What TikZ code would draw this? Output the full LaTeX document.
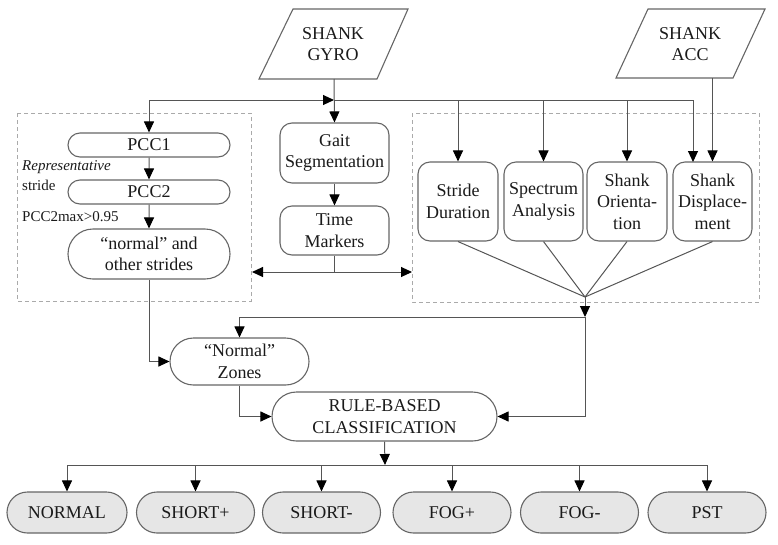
\documentclass[tikz,border=0pt]{standalone}
\usepackage{fontspec}
\setmainfont{Liberation Serif}
\usetikzlibrary{arrows.meta,shapes.misc,calc}
\definecolor{linec}{HTML}{555555}
\definecolor{bordc}{HTML}{666666}
\definecolor{dashc}{HTML}{AAAAAA}
\definecolor{fillc}{HTML}{E6E6E6}
\definecolor{txtc}{HTML}{1A1A1A}
\tikzset{
  base/.style={draw=bordc, line width=1.1pt, align=center, inner sep=0pt, text=txtc,
    font=\fontsize{18}{21.5}\selectfont},
  pill/.style={base, rounded rectangle},
  rbox/.style={base, rectangle, rounded corners=12pt},
  outbox/.style={pill, fill=fillc, minimum width=118pt, minimum height=41pt},
  conn/.style={draw=linec, line width=1pt},
  arr/.style={conn, -{Triangle[length=11pt,width=10pt,color=black]}},
  darr/.style={conn, {Triangle[length=11pt,width=10pt,color=black]}-{Triangle[length=11pt,width=10pt,color=black]}},
  dashbox/.style={draw=dashc, line width=0.8pt, dash pattern=on 4pt off 3pt},
  para/.style={draw=bordc, line width=1.1pt},
  sidelab/.style={anchor=west, inner sep=0pt, text=txtc, font=\fontsize{15}{18}\selectfont},
  txt/.style={inner sep=0pt, align=center, text=txtc, font=\fontsize{18}{21.5}\selectfont}
}
\begin{document}
\begin{tikzpicture}[x=1pt,y=-1pt]
\useasboundingbox (0,0) rectangle (778,544);

% dashed groups
\draw[dashbox] (17,113) rectangle (251,301);
\draw[dashbox] (412,113) rectangle (759,302);

% inputs
\draw[para] (259,79) -- (293,9) -- (408,9) -- (377,79) -- cycle;
\node[txt] (gyro) at (333,44) {SHANK\\GYRO};
\coordinate (gyrob) at (334,79);
\draw[para] (616,78) -- (648,9) -- (765,9) -- (733,78) -- cycle;
\node[txt] (acc) at (690,44) {SHANK\\ACC};
\coordinate (accb) at (712.5,78);

% left group
\node[pill, minimum width=162pt, minimum height=24pt] (pcc1) at (149,145) {PCC1};
\node[pill, minimum width=162pt, minimum height=24pt] (pcc2) at (149,192) {PCC2};
\node[pill, minimum width=162pt, minimum height=50pt] (strides) at (149,254) {``normal'' and\\other strides};
\node[sidelab] (rep) at (22,167) {\itshape Representative};
\node[sidelab] (str) at (22,185) {stride};
\node[sidelab] (pmax) at (22,217) {PCC2max>0.95};

% middle group
\node[rbox, minimum width=109pt, minimum height=60pt] (gait) at (334.5,153) {Gait\\Segmentation};
\node[rbox, minimum width=109pt, minimum height=49pt] (time) at (334.5,230.5) {Time\\Markers};

% right group
\node[rbox, minimum width=80pt, minimum height=79pt] (stride) at (458,201.5) {Stride\\Duration};
\node[rbox, minimum width=79pt, minimum height=79pt] (spec) at (543.5,201.5) {Spectrum\\Analysis};
\node[rbox, minimum width=80pt, minimum height=79pt] (orient) at (627,201.5) {Shank\\Orienta-\\tion};
\node[rbox, minimum width=79pt, minimum height=79pt] (disp) at (712.5,201.5) {Shank\\Displace-\\ment};

% lower
\node[pill, minimum width=139pt, minimum height=47pt] (nzones) at (239.5,361.5) {``Normal''\\Zones};
\node[pill, minimum width=225pt, minimum height=49pt] (rule) at (384.5,416.5) {RULE-BASED\\CLASSIFICATION};

% outputs
\node[outbox, minimum width=120pt] (o1) at (67,512.5) {NORMAL};
\node[outbox] (o2) at (195.5,512.5) {SHORT+};
\node[outbox] (o3) at (321.5,512.5) {SHORT-};
\node[outbox] (o4) at (452,512.5) {FOG+};
\node[outbox] (o5) at (579.5,512.5) {FOG-};
\node[outbox] (o6) at (707,512.5) {PST};

% coordinates
\coordinate (j) at (334,100);
\coordinate (dispin) at (693,162);
\coordinate (conv) at (585,297);
\coordinate (split) at (585,317);
\coordinate (tl) at (252,272);
\coordinate (tr) at (412,272);
\coordinate (bus) at (385,465);

% connectors top
\draw[darr] (pcc1.north) |- (j);
\draw[arr] (gyrob) -- (gait.north);
\draw[arr] (j) -| (dispin);
\draw[arr] (stride.north |- j) -- (stride.north);
\draw[arr] (spec.north |- j) -- (spec.north);
\draw[arr] (orient.north |- j) -- (orient.north);
\draw[arr] (accb) -- (disp.north);

\draw[arr] (pcc1) -- (pcc2);
\draw[arr] (pcc2) -- (strides);
\draw[arr] (gait) -- (time);
\draw[conn] (time.south) -- (time.south |- tl);
\draw[darr] (tl) -- (tr);

% convergence
\draw[conn] (stride.south) -- (conv);
\draw[conn] (spec.south) -- (conv);
\draw[conn] (orient.south) -- (conv);
\draw[conn] (disp.south) -- (conv);
\draw[arr] (conv) -- (split);
\draw[arr] (split) -| (nzones.north);
\draw[arr] (split) |- (rule.east);

\draw[arr] (strides.south) |- (nzones.west);
\draw[arr] (nzones.south) |- (rule.west);

% outputs
\draw[arr] (rule.south) -- (bus);
\draw[arr] (bus) -| (o1.north);
\draw[arr] (bus) -| (o2.north);
\draw[arr] (bus) -| (o3.north);
\draw[arr] (bus) -| (o4.north);
\draw[arr] (bus) -| (o5.north);
\draw[arr] (bus) -| (o6.north);
\end{tikzpicture}
\end{document}
